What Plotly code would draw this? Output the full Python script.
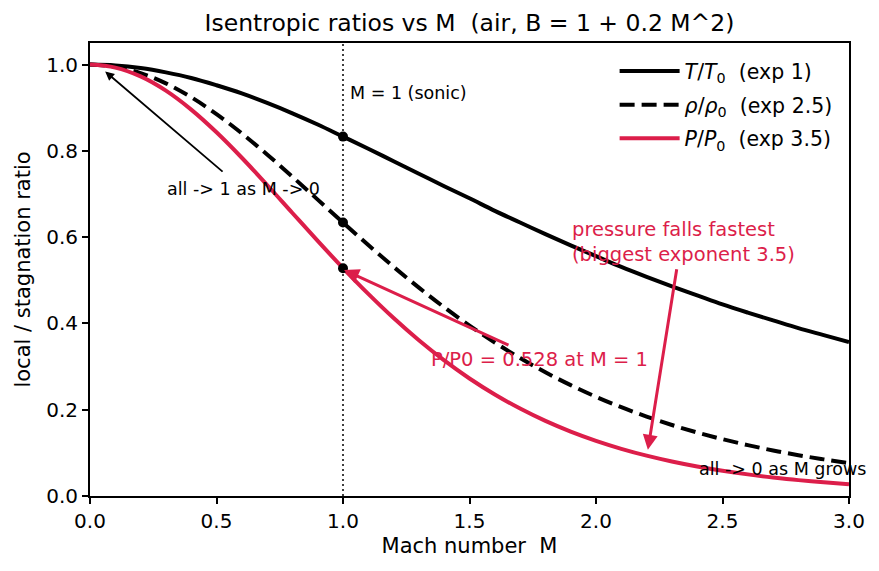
import plotly.graph_objects as go

M = [0.0, 0.1, 0.2, 0.3, 0.4, 0.5, 0.6, 0.7, 0.8, 0.9, 1.0, 1.1, 1.2, 1.3, 1.4, 1.5,
     1.6, 1.7, 1.8, 1.9, 2.0, 2.1, 2.2, 2.3, 2.4, 2.5, 2.6, 2.7, 2.8, 2.9, 3.0]
T_ratio = [1.000, 0.998, 0.992, 0.982, 0.969, 0.952, 0.933, 0.911, 0.887, 0.861, 0.833,
           0.805, 0.776, 0.747, 0.718, 0.690, 0.661, 0.634, 0.607, 0.581, 0.556,
           0.531, 0.508, 0.486, 0.465, 0.444, 0.425, 0.407, 0.389, 0.373, 0.357]
rho_ratio = [1.000, 0.9950, 0.9803, 0.9564, 0.9243, 0.8852, 0.8405, 0.7916, 0.7400, 0.6870, 0.6339,
             0.5817, 0.5311, 0.4829, 0.4374, 0.3950, 0.3557, 0.3197, 0.2868, 0.2570, 0.2300,
             0.2058, 0.1841, 0.1646, 0.1472, 0.1317, 0.1179, 0.1056, 0.0946, 0.0849, 0.0762]
P_ratio = [1.000, 0.9930, 0.9725, 0.9395, 0.8956, 0.8430, 0.7840, 0.7209, 0.6560, 0.5913, 0.5283,
           0.4684, 0.4124, 0.3609, 0.3142, 0.2724, 0.2353, 0.2026, 0.1740, 0.1492, 0.1278,
           0.1094, 0.0935, 0.0800, 0.0684, 0.0585, 0.0501, 0.0430, 0.0368, 0.0317, 0.0272]
sonic_M = [1.0, 1.0, 1.0]
sonic_vals = [0.833, 0.634, 0.528]

RED = "#DC1E4A"
FONT = "DejaVu Sans"

fig = go.Figure()
fig.add_trace(go.Scatter(x=M, y=T_ratio, mode="lines", line=dict(color="black", width=4, shape="spline"),
                         legendgroup="a", name="<i>T</i>/<i>T</i><sub>0</sub>  (exp 1)"))
fig.add_trace(go.Scatter(x=M, y=rho_ratio, mode="lines",
                         line=dict(color="black", width=4, dash="15px,7px", shape="spline"),
                         legendgroup="b", name="<i>ρ</i>/<i>ρ</i><sub>0</sub>  (exp 2.5)"))
fig.add_trace(go.Scatter(x=M, y=P_ratio, mode="lines", line=dict(color=RED, width=4, shape="spline"),
                         legendgroup="c", name="<i>P</i>/<i>P</i><sub>0</sub>  (exp 3.5)"))
fig.add_trace(go.Scatter(x=sonic_M, y=sonic_vals, mode="markers",
                         marker=dict(color="black", size=10), showlegend=False))

fig.add_shape(type="line", x0=1, x1=1, y0=0, y1=1, yref="paper",
              line=dict(color="black", width=1.5, dash="2px,3px"), layer="below")

ann = []
ann.append(dict(x=1.02, y=0.933, text="M = 1 (sonic)", showarrow=False, xanchor="left",
                font=dict(size=17.5, color="black")))
ann.append(dict(x=0.06, y=0.984, ax=0.53, ay=0.749, axref="x", ayref="y", text="",
                showarrow=True, arrowhead=2, arrowsize=1, arrowwidth=1.8, arrowcolor="black"))
ann.append(dict(x=0.296, y=0.712, text="all -> 1 as M -> 0", showarrow=False, xanchor="left",
                font=dict(size=17.5, color="black")))
ann.append(dict(x=1.004, y=0.524, ax=1.66, ay=0.348, axref="x", ayref="y", text="",
                showarrow=True, arrowhead=2, arrowsize=1, arrowwidth=3, arrowcolor=RED))
ann.append(dict(x=1.777, y=0.316, text="P/P0 = 0.528 at M = 1", showarrow=False, xanchor="center",
                font=dict(size=19.5, color=RED)))
ann.append(dict(x=2.205, y=0.107, ax=2.32, ay=0.529, axref="x", ayref="y", text="",
                showarrow=True, arrowhead=2, arrowsize=1, arrowwidth=3, arrowcolor=RED))
ann.append(dict(x=1.897, y=0.589, text="pressure falls fastest<br>(biggest exponent 3.5)", showarrow=False,
                xanchor="left", align="left", font=dict(size=19.5, color=RED)))
ann.append(dict(x=2.40, y=0.063, text="all -> 0 as M grows", showarrow=False, xanchor="left",
                font=dict(size=17.5, color="black")))

fig.update_layout(
    width=879, height=571,
    margin=dict(l=90, r=30, t=43, b=75),
    paper_bgcolor="white", plot_bgcolor="white",
    font=dict(family=FONT, size=20, color="black"),
    title=dict(text="Isentropic ratios vs M  (air, B = 1 + 0.2 M^2)", x=0.5, xref="paper", xanchor="center",
               y=0.96, yanchor="middle", font=dict(size=23.5)),
    annotations=ann,
    legend=dict(x=0.985, y=0.982, xanchor="right", yanchor="top", bgcolor="rgba(255,255,255,0.8)",
                font=dict(size=20.5), tracegroupgap=4, itemwidth=60),
    xaxis=dict(range=[0, 3], tickvals=[0, 0.5, 1, 1.5, 2, 2.5, 3],
               ticktext=["0.0", "0.5", "1.0", "1.5", "2.0", "2.5", "3.0"],
               showgrid=False, zeroline=False, showline=True, linecolor="black", linewidth=2,
               mirror=True, ticks="outside", ticklen=6, tickwidth=1.5, tickcolor="black",
               tickfont=dict(size=20),
               title=dict(text="Mach number  M", font=dict(size=21), standoff=6)),
    yaxis=dict(range=[0, 1.05], tickvals=[0, 0.2, 0.4, 0.6, 0.8, 1.0],
               ticktext=["0.0", "0.2", "0.4", "0.6", "0.8", "1.0"],
               showgrid=False, zeroline=False, showline=True, linecolor="black", linewidth=2,
               mirror=True, ticks="outside", ticklen=6, tickwidth=1.5, tickcolor="black",
               tickfont=dict(size=20),
               title=dict(text="local / stagnation ratio", font=dict(size=21), standoff=10)),
)

fig.write_html("out.html")
